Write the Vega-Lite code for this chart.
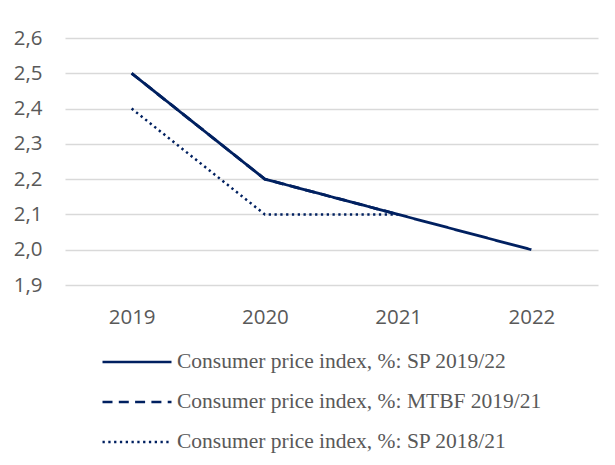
{
  "$schema": "https://vega.github.io/schema/vega-lite/v6.json",
  "width": 533,
  "height": 247,
  "autosize": {"type": "none"},
  "padding": {"left": 65, "top": 38, "right": 17, "bottom": 180},
  "background": "white",
  "data": {
    "values": [
      {"year": "2019", "series": "Consumer price index, %: SP 2019/22", "value": 2.5},
      {"year": "2020", "series": "Consumer price index, %: SP 2019/22", "value": 2.2},
      {"year": "2021", "series": "Consumer price index, %: SP 2019/22", "value": 2.1},
      {"year": "2022", "series": "Consumer price index, %: SP 2019/22", "value": 2.0},
      {"year": "2019", "series": "Consumer price index, %: MTBF 2019/21", "value": 2.5},
      {"year": "2020", "series": "Consumer price index, %: MTBF 2019/21", "value": 2.2},
      {"year": "2021", "series": "Consumer price index, %: MTBF 2019/21", "value": 2.1},
      {"year": "2019", "series": "Consumer price index, %: SP 2018/21", "value": 2.4},
      {"year": "2020", "series": "Consumer price index, %: SP 2018/21", "value": 2.1},
      {"year": "2021", "series": "Consumer price index, %: SP 2018/21", "value": 2.1}
    ]
  },
  "encoding": {
    "x": {
      "field": "year", "type": "ordinal",
      "scale": {"type": "point", "padding": 0.5},
      "axis": {
        "title": null, "labelAngle": 0, "ticks": false, "domain": false, "grid": false,
        "labelFont": "Open Sans", "labelFontSize": 20.5, "labelColor": "#595959", "labelPadding": 22
      }
    },
    "y": {
      "field": "value", "type": "quantitative",
      "scale": {"domain": [1.9, 2.6], "nice": false, "zero": false},
      "axis": {
        "title": null, "values": [1.9, 2.0, 2.1, 2.2, 2.3, 2.4, 2.5, 2.6],
        "labelExpr": "replace(format(datum.value, '.1f'), '.', ',')",
        "ticks": false, "domain": false, "grid": true, "gridColor": "#d9d9d9", "gridWidth": 1.3,
        "labelFont": "Open Sans", "labelFontSize": 20.5, "labelColor": "#595959", "labelPadding": 23
      }
    },
    "strokeDash": {
      "field": "series", "type": "nominal",
      "scale": {
        "domain": ["Consumer price index, %: SP 2019/22", "Consumer price index, %: MTBF 2019/21", "Consumer price index, %: SP 2018/21"],
        "range": [[1, 0], [10, 6.3], [2.3, 3.5]]
      },
      "legend": {
        "title": null, "orient": "none", "legendX": 36, "legendY": 312, "direction": "vertical",
        "symbolType": "stroke", "symbolSize": 4761, "symbolStrokeWidth": 2.7, "symbolStrokeColor": "#002060",
        "labelFont": "Liberation Serif", "labelFontSize": 21.5, "labelColor": "#595959", "labelLimit": 600,
        "labelOffset": 4, "clipHeight": 24, "rowPadding": 16, "padding": 0
      }
    }
  },
  "layer": [
    {"transform": [{"filter": "datum.series === 'Consumer price index, %: MTBF 2019/21'"}],
     "mark": {"type": "line", "color": "#002060", "strokeWidth": 2.8}},
    {"transform": [{"filter": "datum.series === 'Consumer price index, %: SP 2018/21'"}],
     "mark": {"type": "line", "color": "#002060", "strokeWidth": 2.5, "strokeCap": "butt"}},
    {"transform": [{"filter": "datum.series === 'Consumer price index, %: SP 2019/22'"}],
     "mark": {"type": "line", "color": "#002060", "strokeWidth": 2.8}}
  ],
  "config": {"view": {"stroke": null}}
}
